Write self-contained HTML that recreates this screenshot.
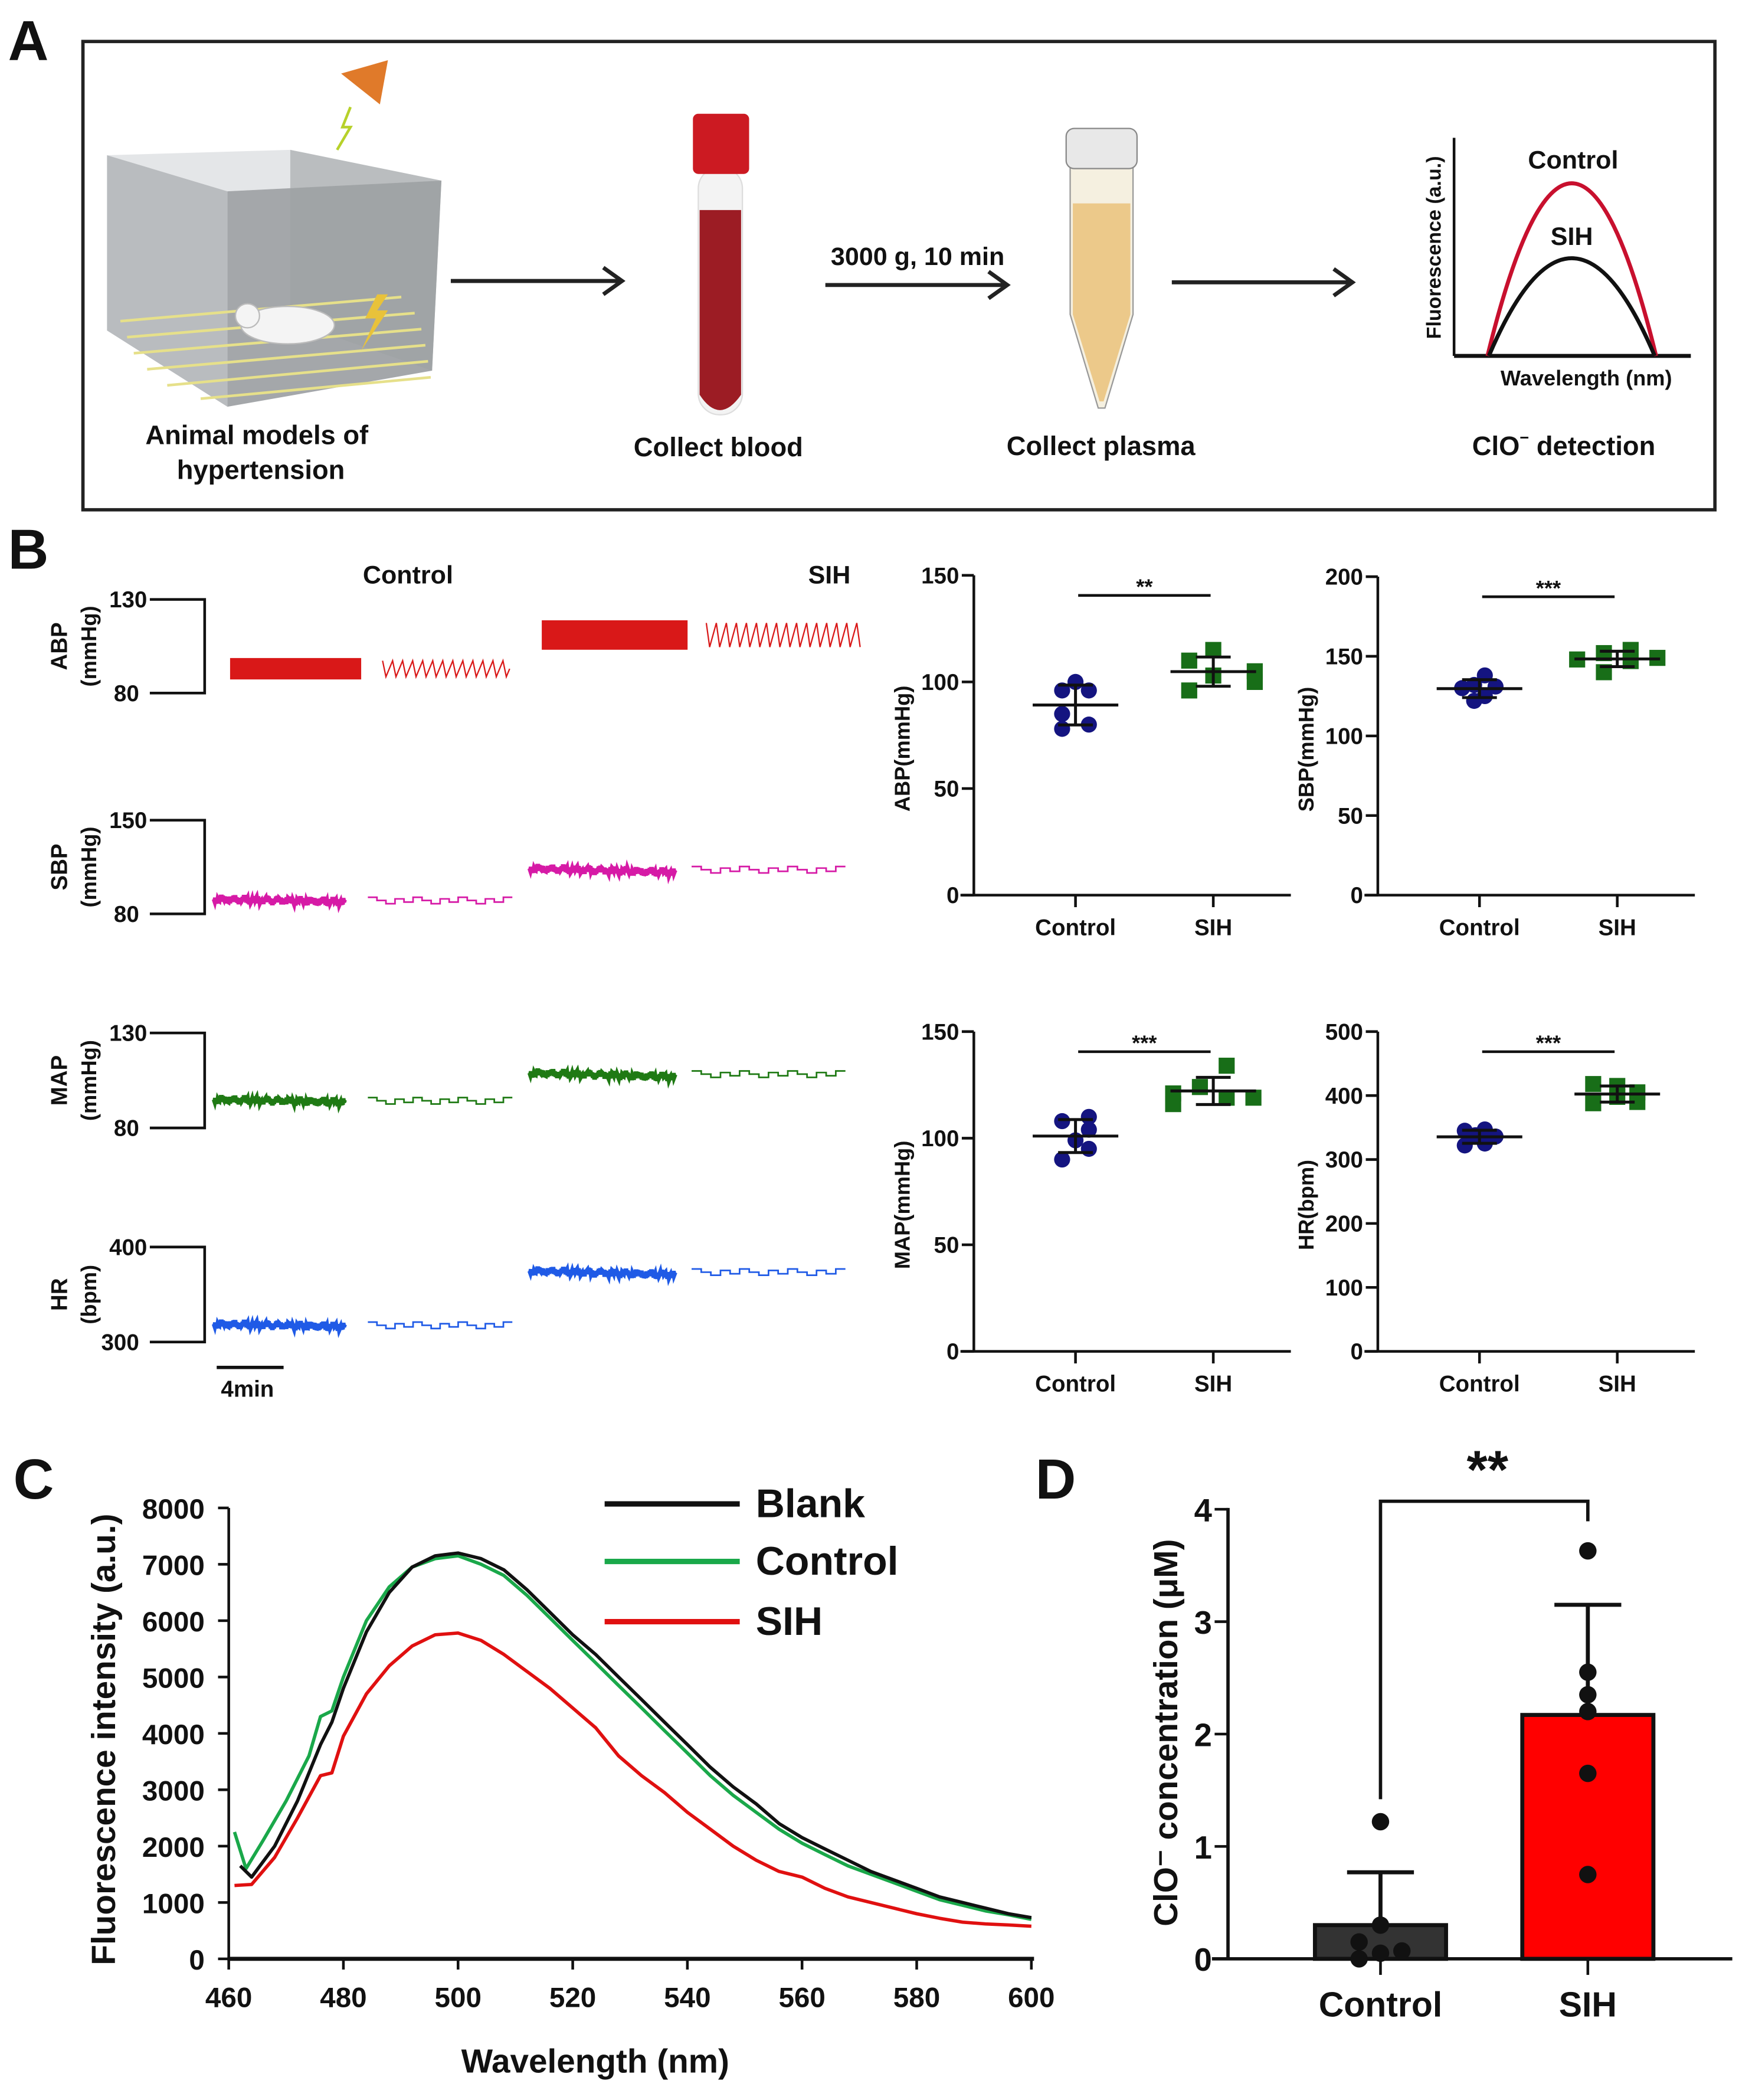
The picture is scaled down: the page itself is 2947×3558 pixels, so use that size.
<!DOCTYPE html>
<html><head><meta charset="utf-8">
<style>
html,body{margin:0;padding:0;background:#fff;}
svg{display:block;}
text{font-family:"Liberation Sans",Arial,sans-serif;font-weight:bold;fill:#111;}
</style></head>
<body>
<svg id="fig" width="2947" height="3558" viewBox="0 0 1300 1569.5" preserveAspectRatio="none" xmlns="http://www.w3.org/2000/svg">
<rect width="1300" height="1570" fill="#fff"/>
<!-- Panel A -->
<g>
<text x="6" y="45" font-size="42">A</text>
<rect x="62" y="31" width="1220" height="350" fill="none" stroke="#222" stroke-width="2.5"/>
<g>
<polygon points="80,116 217,112 330,135 170,143" fill="#e4e6e8"/>
<polygon points="80,116 170,143 170,304 80,247" fill="#b9bcbf"/>
<polygon points="170,143 330,135 323,277 170,304" fill="#a4a7aa"/>
<polygon points="217,112 330,135 323,277 217,240" fill="#9ea1a4" opacity="0.6"/>
<g stroke="#e6e08a" stroke-width="2">
<line x1="90" y1="240" x2="300" y2="222"/><line x1="95" y1="252" x2="310" y2="234"/>
<line x1="100" y1="264" x2="315" y2="246"/><line x1="110" y1="276" x2="318" y2="258"/>
<line x1="125" y1="288" x2="320" y2="270"/><line x1="150" y1="298" x2="322" y2="282"/>
</g>
<ellipse cx="215" cy="243" rx="35" ry="14" fill="#f4f4f4" stroke="#bbb"/>
<circle cx="185" cy="236" r="9" fill="#f4f4f4" stroke="#bbb"/>
<polygon points="282,220 273,238 281,238 270,262 290,232 282,232 290,220" fill="#e8c23a"/>
<polygon points="255,55 290,45 284,78" fill="#e07a2a"/>
<polyline points="262,80 256,95 262,95 252,112" fill="none" stroke="#b7d12a" stroke-width="2"/>
</g>
<g stroke="#222" stroke-width="3" fill="none"><line x1="337" y1="210" x2="464" y2="210"/><polyline points="451,200 465,210 451,220"/></g>
<g stroke="#222" stroke-width="3" fill="none"><line x1="617" y1="213" x2="752" y2="213"/><polyline points="739,203 753,213 739,223"/></g>
<g stroke="#222" stroke-width="3" fill="none"><line x1="876" y1="211" x2="1010" y2="211"/><polyline points="997,201 1011,211 997,221"/></g>
<text x="686" y="198" font-size="19" text-anchor="middle">3000 g, 10 min</text>
<g>
<rect x="522" y="125" width="33" height="185" rx="16" fill="#f3f3f3" stroke="#ddd"/>
<path d="M523,157 L554,157 L554,295 Q538,318 523,295 Z" fill="#9c1c24"/>
<rect x="518" y="85" width="42" height="45" rx="4" fill="#cc1a22"/>
</g>
<g>
<path d="M800,125 L847,125 L847,235 L826,305 L821,305 L800,235 Z" fill="#f5f0e0" stroke="#999"/>
<path d="M802,152 L845,152 L845,235 L825,300 L822,300 L802,235 Z" fill="#ecc98a"/>
<rect x="797" y="96" width="53" height="30" rx="6" fill="#e8e8e8" stroke="#888"/>
</g>
<g>
<line x1="1087" y1="103" x2="1087" y2="266" stroke="#111" stroke-width="2"/>
<line x1="1087" y1="266" x2="1264" y2="266" stroke="#111" stroke-width="3"/>
<path d="M1112,266 Q1175,8 1238,266" fill="none" stroke="#c8102e" stroke-width="3"/>
<path d="M1113,266 Q1175,120 1237,266" fill="none" stroke="#111" stroke-width="3"/>
<text x="1176" y="126" font-size="19" text-anchor="middle">Control</text>
<text x="1175" y="183" font-size="19" text-anchor="middle">SIH</text>
<text x="1250" y="288" font-size="16" text-anchor="end">Wavelength (nm)</text>
<text transform="translate(1077,185) rotate(-90)" font-size="15" text-anchor="middle">Fluorescence (a.u.)</text>
</g>
<text x="192" y="332" font-size="20" text-anchor="middle">Animal models of</text>
<text x="195" y="358" font-size="20" text-anchor="middle">hypertension</text>
<text x="537" y="341" font-size="20" text-anchor="middle">Collect blood</text>
<text x="823" y="340" font-size="20" text-anchor="middle">Collect plasma</text>
<text x="1169" y="340" font-size="20" text-anchor="middle">ClO<tspan font-size="12" dy="-9">−</tspan><tspan dy="9"> detection</tspan></text>
</g>
<!-- Panel B -->
<text x="6" y="425" font-size="42">B</text>
<text x="305" y="436" font-size="19" text-anchor="middle">Control</text>
<text x="620" y="436" font-size="19" text-anchor="middle">SIH</text>
<g id="traces"></g>
<g id="scatters"></g>
<g id="panelC"></g>
<g id="panelD"></g>
</svg>
<script>
// ---- Panel B traces data (level values) ----
const traceParams = ["ABP","SBP","MAP","HR"];
const traceTop = [130,150,130,400];
const traceBottom = [80,80,80,300];
const traceCtrlLevel = [93,91,95,319];
const traceSihLevel = [111,114,109,375];
// ---- Panel B scatter data ----
const scatterNames = ["ABP","SBP","MAP","HR"];
const scatterMax = [150,200,150,500];
const scatterStep = [50,50,50,100];
const scatterStars = ["**","***","***","***"];
const ctrlABP=[100,96,96,85,78,80], sihABP=[110,115,103,96,105,100];
const ctrlSBP=[130,132,138,131,122,125], sihSBP=[148,152,140,154,147,149];
const ctrlMAP=[108,110,99,104,90,95], sihMAP=[121,116,124,134,119,119];
const ctrlHR=[345,322,338,347,325,336], sihHR=[418,388,415,398,390,405];
const ctrlJitter=[[0,-10,10,-10,-10,10],[-13,-4,4,12,-4,4],[-10,10,0,10,-10,10],[-11,-11,-3,4,4,12]];
const sihJitter=[[-18,0,0,-18,31,31],[-30,-10,-10,10,10,30],[-30,-30,-10,10,10,30],[-18,-18,0,0,15,15]];
// ---- Panel C data ----
const wlBlank=[462,464,468,472,476,478,480,484,488,492,496,500,504,508,512,516,520,524,528,532,536,540,544,548,552,556,560,564,568,572,576,580,584,588,592,596,600];
const blank=[1650,1450,2000,2800,3800,4200,4800,5800,6500,6950,7150,7200,7100,6900,6550,6150,5750,5400,5000,4600,4200,3800,3400,3050,2750,2400,2150,1950,1750,1550,1400,1250,1100,1000,900,800,730];
const wlControl=[461,463,466,470,474,476,478,480,484,488,492,496,500,504,508,512,516,520,524,528,532,536,540,544,548,552,556,560,564,568,572,576,580,584,588,592,596,600];
const control=[2250,1600,2100,2800,3600,4300,4400,5000,6000,6600,6950,7100,7150,7000,6800,6450,6050,5650,5250,4850,4450,4050,3650,3250,2900,2600,2300,2050,1850,1650,1500,1350,1200,1050,950,850,780,700];
const wlSih=[461,464,468,472,476,478,480,484,488,492,496,500,504,508,512,516,520,524,528,532,536,540,544,548,552,556,560,564,568,572,576,580,584,588,592,596,600];
const sih=[1300,1320,1800,2500,3250,3300,3950,4700,5200,5550,5750,5780,5650,5400,5100,4800,4450,4100,3600,3250,2950,2600,2300,2000,1750,1550,1450,1250,1100,1000,900,800,720,650,620,600,580];
const cXTicks=[460,480,500,520,540,560,580,600];
const cYTicks=[0,1000,2000,3000,4000,5000,6000,7000,8000];
// ---- Panel D data ----
const dGroups=["Control","SIH"];
const dMeans=[0.3,2.17];
const dSD=[0.47,0.98];
const dPtsCtrl=[1.22,0.3,0.15,0.07,0.05,0.0];
const dPtsSih=[3.63,2.55,2.35,2.2,1.65,0.75];
const dYTicks=[0,1,2,3,4];

const NS="http://www.w3.org/2000/svg";
function mk(parent,tag,attrs,txt){const e=document.createElementNS(NS,tag);for(const k in attrs)e.setAttribute(k,attrs[k]);if(txt!==undefined)e.textContent=txt;parent.appendChild(e);return e;}

// ---- Traces ----
(function(){
const g=document.getElementById('traces');
const tops=[448,613,772,932], bots=[518,683,843,1003];
const colors=["#d91818","#d61aa6","#1f7a14","#1f5ae6"];
traceParams.forEach((p,i)=>{
  const y0=tops[i],y1=bots[i];
  const sc=v=>y1-(v-traceBottom[i])/(traceTop[i]-traceBottom[i])*(y1-y0);
  const br=mk(g,'polyline',{points:`112,${y0} 153,${y0} 153,${y1} 112,${y1}`,fill:'none',stroke:'#111','stroke-width':2});
  
  
  mk(g,'text',{x:110,y:y0+6,'font-size':17,'text-anchor':'end'},String(traceTop[i]));
  mk(g,'text',{x:104,y:y1+6,'font-size':17,'text-anchor':'end'},String(traceBottom[i]));
  const unit=p==="HR"?"(bpm)":"(mmHg)";
  mk(g,'text',{transform:`translate(50,${(y0+y1)/2}) rotate(-90)`,'font-size':17,'text-anchor':'middle'},p);
  mk(g,'text',{transform:`translate(72,${(y0+y1)/2}) rotate(-90)`,'font-size':16,'text-anchor':'middle'},unit);
  [[traceCtrlLevel[i],0],[traceSihLevel[i],1]].forEach(([lv,s])=>{
    const yc=sc(lv);
    const xs1 = s? [396,505]:[160,258];
    const xs2 = s? [517,632]:[275,383];
    if(i===0){
      const h=s?22:16;
      const r=mk(g,'rect',{x:xs1[0]+ (s?9:12),y:yc-h/2,width:xs1[1]-xs1[0],height:h,fill:colors[i]});
       
      let pts=[];for(let x=xs2[0]+11,k=0;x<=xs2[1]+(s?11:0);x+=2.5,k++){pts.push(x+','+(yc+(k%3===0?-h/2+2:(k%3===1?h/2-2:0))));}
      const pl=mk(g,'polyline',{points:pts.join(' '),fill:'none',stroke:colors[i],'stroke-width':1});
       
    } else {
      let pts=[];const n=200;
      for(let k=0;k<=n;k++){const x=xs1[0]+(xs1[1]-xs1[0])*k/n;const d=(k/n)*(s?3:2);const y=yc+d+Math.sin(k*2.7)*2.4+Math.sin(k*0.37)*1.2;pts.push(x.toFixed(1)+','+y.toFixed(1));}
      const pl=mk(g,'polyline',{points:pts.join(' '),fill:'none',stroke:colors[i],'stroke-width':3.5});
       
      let sp=[];const steps=16;
      for(let k=0;k<steps;k++){const xa=xs2[0]+(xs2[1]-xs2[0])*k/steps,xb=xs2[0]+(xs2[1]-xs2[0])*(k+1)/steps;const y=yc+1+((k*7)%5-2)*1.2;sp.push(xa.toFixed(1)+','+y.toFixed(1),xb.toFixed(1)+','+y.toFixed(1));}
      const st=mk(g,'polyline',{points:sp.join(' '),fill:'none',stroke:colors[i],'stroke-width':1.2});
       
    }
  });
});
const sb=mk(g,'line',{x1:162,y1:1022,x2:212,y2:1022,stroke:'#111','stroke-width':2.5});
 
mk(g,'text',{x:185,y:1044,'font-size':17,'text-anchor':'middle'},'4min');
})();

// ---- Scatter plots ----
(function(){
const g=document.getElementById('scatters');
const ax=[[728,430,669],[1030,431,669],[728,771,1010],[1030,771,1010]];
const ctrlData=[ctrlABP,ctrlSBP,ctrlMAP,ctrlHR], sihData=[sihABP,sihSBP,sihMAP,sihHR];
const mean=a=>a.reduce((s,v)=>s+v,0)/a.length;
const sd=a=>{const m=mean(a);return Math.sqrt(a.reduce((s,v)=>s+(v-m)*(v-m),0)/(a.length-1));};
scatterNames.forEach((nm,i)=>{
  const [x0,yt,yb]=ax[i];
  const cg=mk(g,'g',{});
  
  
  const Y=v=>yb-v/scatterMax[i]*(yb-yt);
  const cx=[x0+76,x0+179];
  mk(cg,'line',{x1:x0,y1:yt,x2:x0,y2:yb,stroke:'#111','stroke-width':2});
  mk(cg,'line',{x1:x0-10,y1:yb,x2:x0+237,y2:yb,stroke:'#111','stroke-width':2});
  for(let v=0;v<=scatterMax[i];v+=scatterStep[i]){
    mk(cg,'line',{x1:x0-9,y1:Y(v),x2:x0,y2:Y(v),stroke:'#111','stroke-width':2});
    mk(cg,'text',{x:x0-11,y:Y(v)+6,'font-size':17,'text-anchor':'end'},String(v));
  }
  ["Control","SIH"].forEach((lab,j)=>{
    mk(cg,'line',{x1:cx[j],y1:yb,x2:cx[j],y2:yb+9,stroke:'#111','stroke-width':2});
    mk(cg,'text',{x:cx[j],y:yb+30,'font-size':17,'text-anchor':'middle'},lab);
  });
  const unit=nm==="HR"?"(bpm)":"(mmHg)";
  mk(cg,'text',{transform:`translate(${x0-48},${(yt+yb)/2+10}) rotate(-90)`,'font-size':16,'text-anchor':'middle'},nm+unit);
  const sy=Y(scatterMax[i])+15;
  mk(cg,'line',{x1:cx[0]+2,y1:sy,x2:cx[1]-2,y2:sy,stroke:'#111','stroke-width':2});
  mk(cg,'text',{x:(cx[0]+cx[1])/2,y:sy-1,'font-size':16,'text-anchor':'middle'},scatterStars[i]);
  [ctrlData[i],sihData[i]].forEach((arr,j)=>{
    const jit=j?sihJitter[i]:ctrlJitter[i];
    arr.forEach((v,k)=>{
      let pt;
      if(j===0) pt=mk(cg,'circle',{cx:cx[0]+jit[k],cy:Y(v),r:6,fill:'#141480'});
      else pt=mk(cg,'rect',{x:cx[1]+jit[k]-6,y:Y(v)-6,width:12,height:12,fill:'#186e18'});
      
      
    });
    const m=mean(arr),s=sd(arr),c=cx[j];
    mk(cg,'line',{x1:c-32,y1:Y(m),x2:c+32,y2:Y(m),stroke:'#111','stroke-width':2.2});
    mk(cg,'line',{x1:c,y1:Y(m-s),x2:c,y2:Y(m+s),stroke:'#111','stroke-width':2.2});
    mk(cg,'line',{x1:c-13,y1:Y(m-s),x2:c+13,y2:Y(m-s),stroke:'#111','stroke-width':2.2});
    mk(cg,'line',{x1:c-13,y1:Y(m+s),x2:c+13,y2:Y(m+s),stroke:'#111','stroke-width':2.2});
  });
});
})();

// ---- Panel C ----
(function(){
const g=document.getElementById('panelC');


const X=w=>171+(w-460)/140*600, Y=v=>1464-v/8000*337;
mk(g,'text',{x:10,y:1120,'font-size':42},'C');
mk(g,'line',{x1:171,y1:1127,x2:171,y2:1465,stroke:'#111','stroke-width':2});
mk(g,'line',{x1:170,y1:1464,x2:773,y2:1464,stroke:'#111','stroke-width':3});
cYTicks.forEach(v=>{mk(g,'line',{x1:163,y1:Y(v),x2:171,y2:Y(v),stroke:'#111','stroke-width':2});mk(g,'text',{x:153,y:Y(v)+8,'font-size':21,'text-anchor':'end'},String(v));});
cXTicks.forEach(v=>{mk(g,'line',{x1:X(v),y1:1464,x2:X(v),y2:1472,stroke:'#111','stroke-width':2});mk(g,'text',{x:X(v),y:1500,'font-size':21,'text-anchor':'middle'},String(v));});
mk(g,'text',{transform:'translate(86,1300) rotate(-90)','font-size':25,'text-anchor':'middle'},'Fluorescence intensity (a.u.)');
mk(g,'text',{x:445,y:1549,'font-size':25,'text-anchor':'middle'},'Wavelength (nm)');
[[wlSih,sih,'#e01010','sih'],[wlControl,control,'#1aa84a','control'],[wlBlank,blank,'#111','blank']].forEach(([w,v,c,n])=>{
  const pl=mk(g,'polyline',{points:w.map((x,k)=>X(x).toFixed(1)+','+Y(v[k]).toFixed(1)).join(' '),fill:'none',stroke:c,'stroke-width':2.5,'stroke-linejoin':'round'});
  
  
});
[['Blank','#111',1124],['Control','#1aa84a',1167],['SIH','#e01010',1212]].forEach(([t,c,y])=>{
  const le=mk(g,'line',{x1:452,y1:y,x2:553,y2:y,stroke:c,'stroke-width':4});
  
  
  mk(g,'text',{x:565,y:y+10,'font-size':30},t);
});
})();

// ---- Panel D ----
(function(){
const g=document.getElementById('panelD');


const Y=v=>1464-v/4*336;
const cx=[1032,1187];
const axX=918;
mk(g,'text',{x:774,y:1120,'font-size':42},'D');
mk(g,'line',{x1:axX,y1:1127,x2:axX,y2:1465,stroke:'#111','stroke-width':2.5});
mk(g,'line',{x1:axX-12,y1:1464,x2:1295,y2:1464,stroke:'#111','stroke-width':2.5});
dYTicks.forEach(v=>{mk(g,'line',{x1:axX-10,y1:Y(v),x2:axX,y2:Y(v),stroke:'#111','stroke-width':2});mk(g,'text',{x:axX-12,y:Y(v)+9,'font-size':24,'text-anchor':'end','font-weight':'normal'},String(v));});
mk(g,'text',{transform:'translate(880,1295) rotate(-90)','font-size':25,'text-anchor':'middle'},'ClO⁻ concentration (μM)');
const fills=['#333','#ff0000'];
dGroups.forEach((lab,j)=>{
  const b=mk(g,'rect',{x:cx[j]-49,y:Y(dMeans[j]),width:98,height:Y(0)-Y(dMeans[j]),fill:fills[j],stroke:'#111','stroke-width':3});
  
  
  const top=dMeans[j]+dSD[j];
  mk(g,'line',{x1:cx[j],y1:Y(dMeans[j]),x2:cx[j],y2:Y(top),stroke:'#111','stroke-width':3});
  mk(g,'line',{x1:cx[j]-25,y1:Y(top),x2:cx[j]+25,y2:Y(top),stroke:'#111','stroke-width':3});
  mk(g,'line',{x1:cx[j],y1:1464,x2:cx[j],y2:1476,stroke:'#111','stroke-width':2});
  mk(g,'text',{x:cx[j],y:1507,'font-size':26,'text-anchor':'middle'},lab);
});
const ctrlOff=[0,0,-16,16,0,-16], sihOff=[0,0,0,0,0,0];
dPtsCtrl.forEach((v,k)=>{const p=mk(g,'circle',{cx:cx[0]+ctrlOff[k],cy:Y(v),r:6.5,fill:'#111'});});
dPtsSih.forEach((v,k)=>{const p=mk(g,'circle',{cx:cx[1]+sihOff[k],cy:Y(v),r:6.5,fill:'#111'});});
const br=mk(g,'polyline',{points:`${cx[0]},${Y(1.42)} ${cx[0]},1122 ${cx[1]},1122 ${cx[1]},1137`,fill:'none',stroke:'#111','stroke-width':2.5});


mk(g,'text',{x:1112,y:1112,'font-size':40,'text-anchor':'middle'},'**');
})();
</script>
</body></html>
